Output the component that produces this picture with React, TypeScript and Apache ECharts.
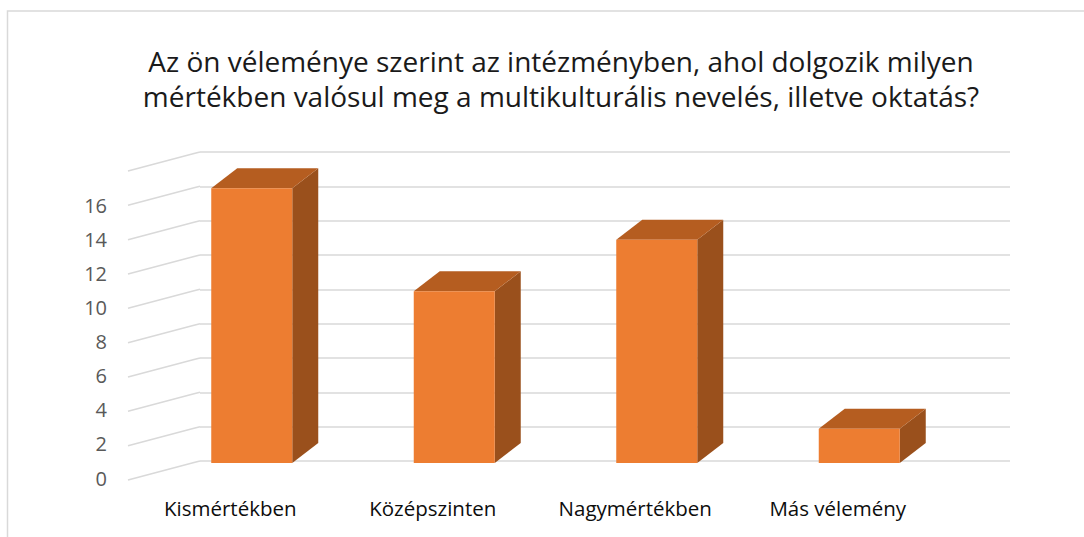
import React, { useEffect, useRef } from "react";
import * as echarts from "echarts";

const titleText =
  "Az ön véleménye szerint az intézményben, ahol dolgozik milyen\nmértékben valósul meg a multikulturális nevelés, illetve oktatás?";
const categories = ["Kismértékben", "Középszinten", "Nagymértékben", "Más vélemény"];
const values = [16, 10, 13, 2];
const yMax = 18;
const yInterval = 2;
const yTicks = [0, 2, 4, 6, 8, 10, 12, 14, 16, 18];

const FONT = "'Open Sans', 'Noto Sans', sans-serif";
const GRID_COLOR = "#D9D9D9";

export default function App() {
  const ref = useRef<HTMLDivElement>(null);

  useEffect(() => {
    document.body.style.margin = "0";
    if (!ref.current) return;
    const chart = echarts.init(ref.current, undefined, { renderer: "svg" });

    const option: any = {
      animation: false,
      backgroundColor: "#ffffff",
      textStyle: { fontFamily: FONT },
      title: {
        text: titleText,
        left: 556,
        textAlign: "center",
        top: 38,
        textStyle: {
          fontFamily: FONT,
          fontSize: 28,
          lineHeight: 35,
          fontWeight: "normal",
          color: "#1a1a1a",
        },
      },
      graphic: [
        {
          type: "rect",
          shape: { x: 7.5, y: 11, width: 1200, height: 700 },
          style: { fill: "none", stroke: GRID_COLOR, lineWidth: 1.5 },
          silent: true,
        },
      ],
      grid: [
        { left: 200, right: 74, top: 152, bottom: 76 },
        { left: 129, right: 145, top: 171, bottom: 59 },
      ],
      xAxis: [
        {
          gridIndex: 0,
          type: "category",
          data: categories,
          show: false,
        },
        {
          gridIndex: 1,
          type: "category",
          data: categories,
          axisLine: { show: false },
          axisTick: { show: false },
          axisLabel: {
            interval: 0,
            hideOverlap: false,
            fontSize: 20.5,
            color: "#0d0d0d",
            margin: 19,
            fontFamily: FONT,
          },
        },
      ],
      yAxis: [
        {
          gridIndex: 0,
          type: "value",
          min: 0,
          max: yMax,
          interval: yInterval,
          axisLine: { show: false },
          axisTick: { show: false },
          axisLabel: { show: false },
          splitLine: { lineStyle: { color: GRID_COLOR, width: 1.5 } },
        },
        {
          gridIndex: 1,
          type: "value",
          min: 0,
          max: yMax,
          interval: yInterval,
          axisLine: { show: false },
          axisTick: { show: false },
          splitLine: { show: false },
          axisLabel: {
            fontSize: 20,
            color: "#595959",
            margin: 22,
            showMaxLabel: false,
            fontFamily: FONT,
          },
        },
      ],
      series: [
        {
          type: "custom",
          xAxisIndex: 0,
          yAxisIndex: 0,
          silent: true,
          data: yTicks.map((t) => [0, t]),
          renderItem: (params: any, api: any) => {
            const y = api.coord([0, api.value(1)])[1];
            const x = params.coordSys.x;
            return {
              type: "polyline",
              shape: {
                points: [
                  [x - 72, y + 19],
                  [x - 6, y + 1.5],
                  [x, y],
                ],
              },
              style: { stroke: GRID_COLOR, lineWidth: 1.5, fill: "none" },
            };
          },
        },
        {
          type: "custom",
          xAxisIndex: 0,
          yAxisIndex: 0,
          data: values.map((v, i) => [i, v]),
          renderItem: (_params: any, api: any) => {
            const idx = api.value(0);
            const [cx, yTop0] = api.coord([idx, api.value(1)]);
            const yBot0 = api.coord([idx, 0])[1];
            const left = cx - 90;
            const w = 81;
            const right = left + w;
            const yBot = yBot0 + 2;
            const yTop = yTop0 + 2;
            const dx = 26;
            const dy = -20;
            return {
              type: "group",
              children: [
                {
                  type: "polygon",
                  shape: {
                    points: [
                      [right, yTop],
                      [right + dx, yTop + dy],
                      [right + dx, yBot + dy],
                      [right, yBot],
                    ],
                  },
                  style: { fill: "#9A501C" },
                },
                {
                  type: "polygon",
                  shape: {
                    points: [
                      [left, yTop],
                      [left + dx, yTop + dy],
                      [right + dx, yTop + dy],
                      [right, yTop],
                    ],
                  },
                  style: { fill: "#B55D20" },
                },
                {
                  type: "rect",
                  shape: { x: left, y: yTop, width: w, height: yBot - yTop },
                  style: { fill: "#ED7D31" },
                },
              ],
            };
          },
        },
      ],
    };

    chart.setOption(option);
    return () => chart.dispose();
  }, []);

  return <div ref={ref} style={{ width: 1084, height: 537 }} />;
}
